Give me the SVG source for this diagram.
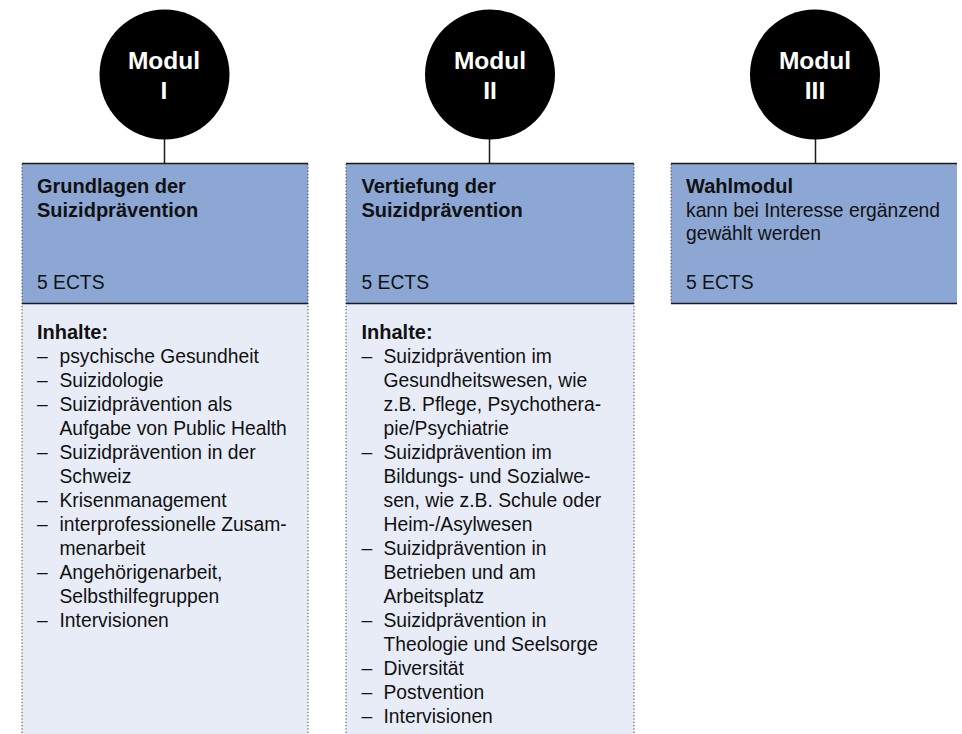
<svg xmlns="http://www.w3.org/2000/svg" width="962" height="734" viewBox="0 0 962 734">
<style>
.circ{fill:#000}
.ct{font-family:"Liberation Sans",Arial,sans-serif;font-weight:bold;font-size:24.5px;fill:#fff;text-anchor:middle}
.head{fill:#8da7d5}
.body{fill:#e8ecf7}
.dot{stroke:#444;stroke-width:1;stroke-dasharray:1.3 2;fill:none}
.solid{stroke:#1a1a1a;stroke-width:1.5;fill:none}
.conn{stroke:#1a1a1a;stroke-width:1.5}
.t{font-family:"Liberation Sans",Arial,sans-serif;font-size:19.3px;fill:#111}
.b{font-family:"Liberation Sans",Arial,sans-serif;font-size:20px;font-weight:bold;fill:#111}
</style>
<rect width="962" height="734" fill="#fff"/>
<g id="connectors">
<line class="conn" x1="164.5" y1="139" x2="164.5" y2="164"/>
<line class="conn" x1="489.5" y1="139" x2="489.5" y2="164"/>
<line class="conn" x1="815.5" y1="139" x2="815.5" y2="164"/>
</g>
<g id="modul1">
<circle class="circ" cx="164.5" cy="74.5" r="65"/>
<text class="ct" x="164" y="68.5">Modul</text>
<text class="ct" x="164" y="99">I</text>
</g>
<g id="modul2">
<circle class="circ" cx="490" cy="74.5" r="65"/>
<text class="ct" x="490" y="68.5">Modul</text>
<text class="ct" x="490" y="99">II</text>
</g>
<g id="modul3">
<circle class="circ" cx="815" cy="74.5" r="65"/>
<text class="ct" x="815" y="68.5">Modul</text>
<text class="ct" x="815" y="99">III</text>
</g>
<g id="box1">
<rect class="head" x="22" y="163.5" width="286" height="140"/>
<rect class="body" x="22" y="303.5" width="286" height="440"/>
<line class="dot" x1="22" y1="164" x2="22" y2="734"/>
<line class="dot" x1="308" y1="164" x2="308" y2="734"/>
<line class="solid" x1="22" y1="163.5" x2="308" y2="163.5"/>
<line class="solid" x1="22" y1="303.5" x2="308" y2="303.5"/>
<text class="b" x="37" y="193.3">Grundlagen der</text>
<text class="b" x="37" y="216.7">Suizidprävention</text>
<text class="t" x="37" y="288.7">5 ECTS</text>
<text class="b" x="37" y="339.3">Inhalte:</text>
<g class="t">
<text x="37" y="363.3">–</text><text x="59.5" y="363.3">psychische Gesundheit</text>
<text x="37" y="387.3">–</text><text x="59.5" y="387.3">Suizidologie</text>
<text x="37" y="411.3">–</text><text x="59.5" y="411.3">Suizidprävention als</text>
<text x="59.5" y="435.3">Aufgabe von Public Health</text>
<text x="37" y="459.3">–</text><text x="59.5" y="459.3">Suizidprävention in der</text>
<text x="59.5" y="483.3">Schweiz</text>
<text x="37" y="507.3">–</text><text x="59.5" y="507.3">Krisenmanagement</text>
<text x="37" y="531.3">–</text><text x="59.5" y="531.3">interprofessionelle Zusam-</text>
<text x="59.5" y="555.3">menarbeit</text>
<text x="37" y="579.3">–</text><text x="59.5" y="579.3">Angehörigenarbeit,</text>
<text x="59.5" y="603.3">Selbsthilfegruppen</text>
<text x="37" y="627.3">–</text><text x="59.5" y="627.3">Intervisionen</text>
</g>
</g>
<g id="box2">
<rect class="head" x="346" y="163.5" width="288" height="140"/>
<rect class="body" x="346" y="303.5" width="288" height="440"/>
<line class="dot" x1="346" y1="164" x2="346" y2="734"/>
<line class="dot" x1="634" y1="164" x2="634" y2="734"/>
<line class="solid" x1="346" y1="163.5" x2="634" y2="163.5"/>
<line class="solid" x1="346" y1="303.5" x2="634" y2="303.5"/>
<text class="b" x="361.5" y="193.3">Vertiefung der</text>
<text class="b" x="361.5" y="216.7">Suizidprävention</text>
<text class="t" x="361.5" y="288.7">5 ECTS</text>
<text class="b" x="361.5" y="339.3">Inhalte:</text>
<g class="t">
<text x="361.5" y="363.3">–</text><text x="383.5" y="363.3">Suizidprävention im</text>
<text x="383.5" y="387.3">Gesundheitswesen, wie</text>
<text x="383.5" y="411.3">z.B. Pflege, Psychothera-</text>
<text x="383.5" y="435.3">pie/Psychiatrie</text>
<text x="361.5" y="459.3">–</text><text x="383.5" y="459.3">Suizidprävention im</text>
<text x="383.5" y="483.3">Bildungs- und Sozialwe-</text>
<text x="383.5" y="507.3">sen, wie z.B. Schule oder</text>
<text x="383.5" y="531.3">Heim-/Asylwesen</text>
<text x="361.5" y="555.3">–</text><text x="383.5" y="555.3">Suizidprävention in</text>
<text x="383.5" y="579.3">Betrieben und am</text>
<text x="383.5" y="603.3">Arbeitsplatz</text>
<text x="361.5" y="627.3">–</text><text x="383.5" y="627.3">Suizidprävention in</text>
<text x="383.5" y="651.3">Theologie und Seelsorge</text>
<text x="361.5" y="675.3">–</text><text x="383.5" y="675.3">Diversität</text>
<text x="361.5" y="699.3">–</text><text x="383.5" y="699.3">Postvention</text>
<text x="361.5" y="723.3">–</text><text x="383.5" y="723.3">Intervisionen</text>
</g>
</g>
<g id="box3">
<rect class="head" x="671" y="163.5" width="286" height="140"/>
<line class="dot" x1="671" y1="164" x2="671" y2="303"/>
<line class="solid" x1="671" y1="163.5" x2="957" y2="163.5"/>
<line class="solid" x1="671" y1="303.5" x2="957" y2="303.5"/>
<text class="b" x="686" y="193.3">Wahlmodul</text>
<text class="t" x="686" y="216.5">kann bei Interesse ergänzend</text>
<text class="t" x="686" y="239.5">gewählt werden</text>
<text class="t" x="686" y="288.7">5 ECTS</text>
</g>
</svg>
